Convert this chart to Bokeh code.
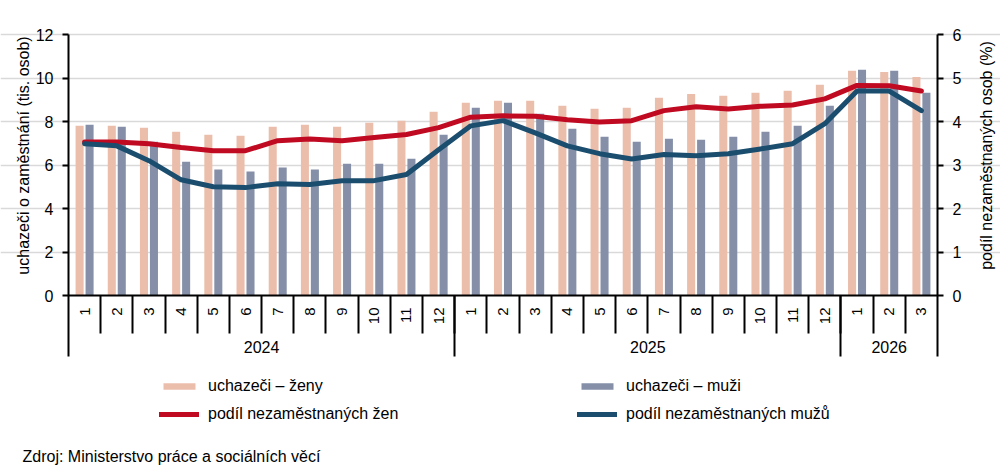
from math import pi
from bokeh.plotting import figure
from bokeh.models import (ColumnDataSource, Range1d, LinearAxis, FixedTicker,
                          Legend, LegendItem, Grid, Label)
from bokeh.transform import dodge
from bokeh.embed import file_html
from bokeh.resources import INLINE

# ---------------- data ----------------
months = [1, 2, 3, 4, 5, 6, 7, 8, 9, 10, 11, 12,
          1, 2, 3, 4, 5, 6, 7, 8, 9, 10, 11, 12,
          1, 2, 3]
year_labels = ["2024", "2025", "2026"]
year_lengths = [12, 12, 3]

women_applicants = [7.81, 7.81, 7.71, 7.53, 7.39, 7.35, 7.76, 7.85, 7.76, 7.94, 8.04, 8.45,
                    8.86, 8.95, 8.95, 8.72, 8.59, 8.63, 9.09, 9.27, 9.18, 9.32, 9.41, 9.69,
                    10.33, 10.28, 10.05]
men_applicants = [7.85, 7.76, 7.07, 6.15, 5.79, 5.70, 5.88, 5.79, 6.06, 6.06, 6.29, 7.39,
                  8.63, 8.86, 8.36, 7.67, 7.30, 7.07, 7.21, 7.16, 7.30, 7.53, 7.81, 8.72,
                  10.38, 10.33, 9.32]
women_rate = [3.53, 3.53, 3.49, 3.40, 3.33, 3.33, 3.56, 3.60, 3.56, 3.63, 3.70, 3.86,
              4.10, 4.13, 4.12, 4.04, 3.99, 4.02, 4.25, 4.34, 4.29, 4.35, 4.38, 4.52,
              4.83, 4.82, 4.70]
men_rate = [3.49, 3.44, 3.10, 2.66, 2.50, 2.48, 2.57, 2.55, 2.64, 2.64, 2.78, 3.35,
            3.90, 4.02, 3.74, 3.44, 3.26, 3.14, 3.24, 3.21, 3.26, 3.37, 3.49, 3.95,
            4.70, 4.70, 4.25]

left_ticks = [0, 2, 4, 6, 8, 10, 12]
right_ticks = [0, 1, 2, 3, 4, 5, 6]

label_women = "uchazeči – ženy"
label_men = "uchazeči – muži"
label_wrate = "podíl nezaměstnaných žen"
label_mrate = "podíl nezaměstnaných mužů"
left_title = "uchazeči o zaměstnání (tis. osob)"
right_title = "podíl nezaměstnaných osob (%)"
source_note = "Zdroj: Ministerstvo  práce a sociálních věcí"

# ---------------- styling / layout (pixels) ----------------
FONT = "Liberation Sans"
C_WOMEN = "#EBBEAC"
C_MEN = "#8590A8"
C_WRATE = "#C00A22"
C_MRATE = "#1B4E6E"

W, H = 1000, 470          # canvas; the whole canvas is the plot frame
PL, PR = 68, 937          # plot-area left / right edge (canvas px)
PT, PB = 34, 295          # plot-area top (value 12) / bottom (value 0)
MONTH_SEP = 38            # month separator length below the axis
YEAR_SEP = 61             # year separator length below the axis

n = len(months)
idx = list(range(n))
cw = (PR - PL) / n                       # px per category
ppu = (PB - PT) / left_ticks[-1]         # px per left-axis unit
ratio = left_ticks[-1] / right_ticks[-1]

x0 = -0.5 - PL / cw
x1 = -0.5 + (W - PL) / cw
y_top = left_ticks[-1] + PT / ppu
y_bot = -(H - PB) / ppu

src = ColumnDataSource(dict(x=idx, women=women_applicants, men=men_applicants,
                            wr=women_rate, mr=men_rate))

p = figure(width=W, height=H, x_range=Range1d(x0, x1), y_range=Range1d(y_bot, y_top),
           output_backend="svg", toolbar_location=None,
           x_axis_location=None, y_axis_location=None, min_border=0)
p.extra_y_ranges = {"pct": Range1d(y_bot / ratio, y_top / ratio)}
p.outline_line_color = None
p.background_fill_color = "white"
p.border_fill_color = "white"
for g in p.grid:
    g.visible = False

# horizontal gridlines (only over the plot area)
p.add_layout(Grid(dimension=1, ticker=FixedTicker(ticks=left_ticks[1:]),
                  bounds=(-0.5, n - 0.5),
                  grid_line_color="#D9D9D9", grid_line_width=1.5))

year_sep_val = -YEAR_SEP / ppu

# left / right value axes
yl = LinearAxis(ticker=FixedTicker(ticks=left_ticks), fixed_location=-0.5,
                bounds=(year_sep_val, left_ticks[-1]))
yr = LinearAxis(ticker=FixedTicker(ticks=right_ticks), y_range_name="pct",
                fixed_location=n - 0.5, bounds=(year_sep_val / ratio, right_ticks[-1]))
for ax in (yl, yr):
    ax.major_tick_out = 6
    ax.major_tick_in = 0
    ax.minor_tick_line_color = None
    ax.axis_line_width = 2
    ax.axis_line_color = "black"
    ax.major_tick_line_width = 2
    ax.major_tick_line_color = "black"
    ax.major_label_text_font = FONT
    ax.major_label_text_font_size = "16px"
    ax.major_label_text_color = "black"
    ax.major_label_standoff = 9
p.add_layout(yl, "left")
p.add_layout(yr, "right")

# category axis: months with separators
boundaries = [i - 0.5 for i in range(1, n)]
xa = LinearAxis(ticker=FixedTicker(ticks=idx, minor_ticks=boundaries),
                major_label_overrides={i: str(m) for i, m in enumerate(months)},
                major_label_orientation=pi / 2, fixed_location=0, bounds=(-0.5, n - 0.5))
xa.major_tick_out = 0
xa.major_tick_in = 0
xa.major_tick_line_color = None
xa.minor_tick_out = MONTH_SEP
xa.minor_tick_in = 0
xa.minor_tick_line_width = 2
xa.minor_tick_line_color = "black"
xa.axis_line_width = 2
xa.axis_line_color = "black"
xa.major_label_text_font = FONT
xa.major_label_text_font_size = "15px"
xa.major_label_text_color = "black"
xa.major_label_standoff = 12 - MONTH_SEP
p.add_layout(xa, "below")

# category axis: years with separators
year_centers = []
year_bounds = []
start = 0
for L in year_lengths:
    year_centers.append(start + (L - 1) / 2)
    start += L
    year_bounds.append(start - 0.5)
xb = LinearAxis(ticker=FixedTicker(ticks=year_centers, minor_ticks=year_bounds[:-1]),
                major_label_overrides={c: t for c, t in zip(year_centers, year_labels)},
                fixed_location=0, bounds=(-0.5, n - 0.5))
xb.axis_line_color = None
xb.major_tick_out = 0
xb.major_tick_in = 0
xb.major_tick_line_color = None
xb.minor_tick_in = 0
xb.minor_tick_out = YEAR_SEP
xb.minor_tick_line_width = 2
xb.minor_tick_line_color = "black"
xb.major_label_text_font = FONT
xb.major_label_text_font_size = "16px"
xb.major_label_text_color = "black"
xb.major_label_standoff = -16
p.add_layout(xb, "below")

# bars
bw = 0.25
r_w = p.vbar(x=dodge("x", -0.155, range=p.x_range), top="women", width=bw, source=src,
             fill_color=C_WOMEN, line_color=None)
r_m = p.vbar(x=dodge("x", 0.155, range=p.x_range), top="men", width=bw, source=src,
             fill_color=C_MEN, line_color=None)
# lines
r_wr = p.line(x="x", y="wr", source=src, y_range_name="pct", line_color=C_WRATE,
              line_width=5, line_join="round", line_cap="round")
r_mr = p.line(x="x", y="mr", source=src, y_range_name="pct", line_color=C_MRATE,
              line_width=5, line_join="round", line_cap="round")

# legends (two columns)
LEG_TOP = 376
def make_legend(items, left):
    lg = Legend(items=items, orientation="vertical")
    lg.padding = 0
    lg.margin = 0
    lg.spacing = 8
    lg.glyph_width = 40
    lg.glyph_height = 8
    lg.label_height = 20
    lg.label_standoff = 9
    lg.label_text_font = FONT
    lg.label_text_font_size = "16px"
    lg.label_text_color = "black"
    lg.border_line_color = None
    lg.background_fill_alpha = 0
    lg.location = (left, H - LEG_TOP - 48)
    return lg

p.add_layout(make_legend([LegendItem(label=label_women, renderers=[r_w]),
                          LegendItem(label=label_wrate, renderers=[r_wr])], 159))
p.add_layout(make_legend([LegendItem(label=label_men, renderers=[r_m]),
                          LegendItem(label=label_mrate, renderers=[r_mr])], 577))

# axis titles and source note (screen px from frame bottom-left)
common = dict(x_units="screen", y_units="screen", text_font=FONT,
              text_font_size="16px", text_color="black")
p.add_layout(Label(x=23, y=H - 155, angle=pi / 2, text=left_title,
                   text_align="center", text_baseline="middle", **common))
p.add_layout(Label(x=986, y=H - 155, angle=pi / 2, text=right_title,
                   text_align="center", text_baseline="middle", **common))
p.add_layout(Label(x=22, y=H - 456, text=source_note,
                   text_align="left", text_baseline="middle", **common))

open("out.html", "w").write(file_html(p, INLINE))
